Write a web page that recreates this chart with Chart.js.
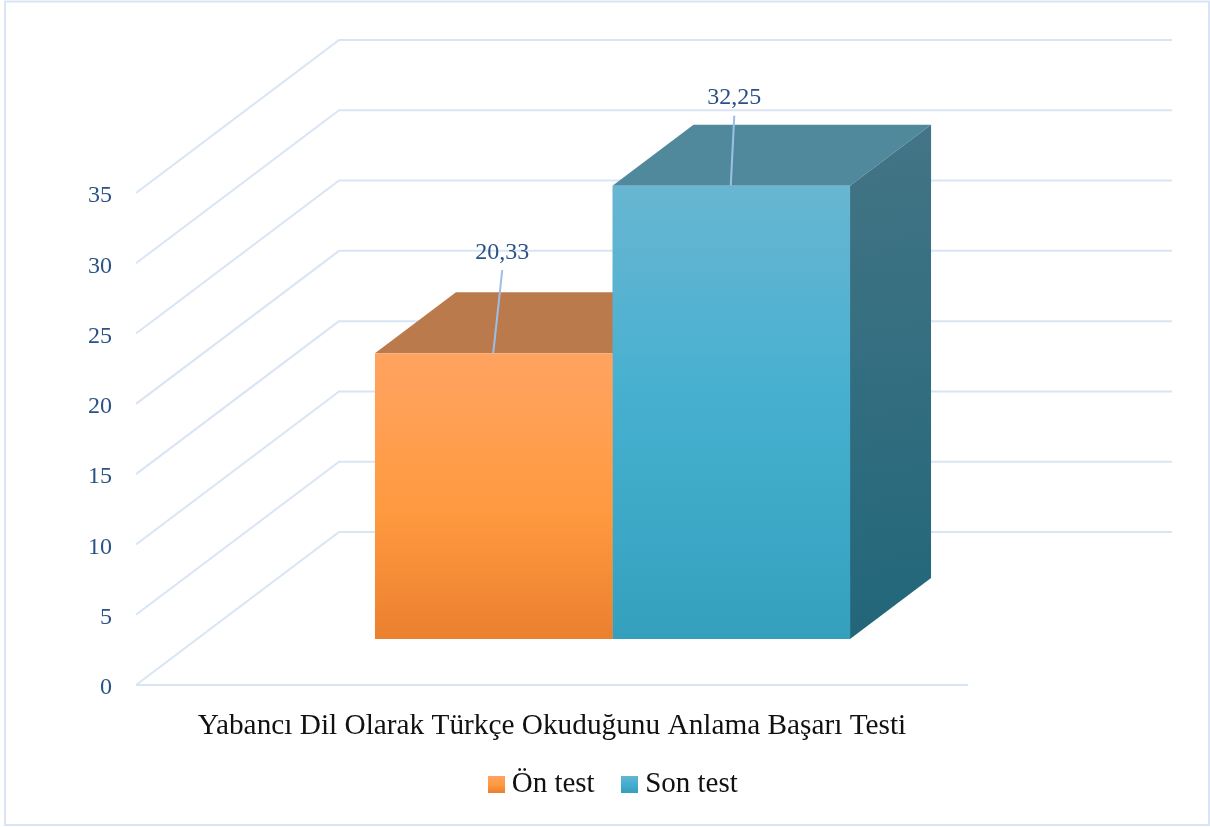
<!DOCTYPE html>
<html lang="tr">
<head>
<meta charset="utf-8">
<title>Yabancı Dil Olarak Türkçe Okuduğunu Anlama Başarı Testi</title>
<script src="https://cdn.jsdelivr.net/npm/chart.js@4"></script>
<style>html,body{margin:0;padding:0;background:#fff}canvas{display:block}</style>
</head>
<body>
<canvas id="c" width="1210" height="827"></canvas>
<script>
const categories = ['Yabancı Dil Olarak Türkçe Okuduğunu Anlama Başarı Testi'];
const seriesNames = ['Ön test', 'Son test'];
const onTest = [20.33];
const sonTest = [32.25];
const axisMin = 0, axisMax = 35, axisStep = 5;

const FONT = '"Liberation Serif", serif';
const TICK = '#2a5286', INK = '#111111', GRID = '#d9e5f4', LEADER = '#9dbfe6';
const WALL = {dx: 203, dy: -153};   // depth of the chart floor
const SHIFT = {dx: 60.5, dy: -46};  // bars stand part-way into the floor
const DEPTH = {dx: 81, dy: -61};    // depth of each bar
const LABEL_OFFSET = [{dx: 9, up: 83, text: 101}, {dx: 3.5, up: 70, text: 88}];

const FRONT = [
  [[0,'#ffa361'],[0.55,'#ff9a40'],[1,'#eb802f']],
  [[0,'#68b6d2'],[0.45,'#47b0d0'],[1,'#34a0be']]
];
const TOP_FACE = ['#bb7a4b', '#50899b'];
const SIDE_FACE = [['#9c6a3a','#8a5a2a'], ['#437585','#22667a']];

function swatch(stops){
  const s = document.createElement('canvas'); s.width = 17; s.height = 17;
  const x = s.getContext('2d'), g = x.createLinearGradient(0,0,0,17);
  stops.forEach(p => g.addColorStop(p[0], p[1]));
  x.fillStyle = g; x.fillRect(0,0,17,17);
  return s;
}
const swatches = FRONT.map(swatch);

function frontFill(i){
  return function(ctx){
    const c = ctx.chart, y = c.scales.y;
    const v = (i === 0 ? onTest : sonTest)[0];
    const y1 = y ? y.getPixelForValue(v) : NaN, y2 = y ? y.getPixelForValue(0) : NaN;
    if (!Number.isFinite(y1) || !Number.isFinite(y2)) return FRONT[i][0][1];
    const g = c.ctx.createLinearGradient(0, y1, 0, y2);
    FRONT[i].forEach(p => g.addColorStop(p[0], p[1]));
    return g;
  };
}
function poly(c, pts, fill){
  c.beginPath();
  pts.forEach((p,i) => i ? c.lineTo(p[0],p[1]) : c.moveTo(p[0],p[1]));
  c.closePath();
  c.fillStyle = fill; c.fill();
}

const frame3d = {
  id: 'frame3d',
  afterLayout(chart){
    // the axis box clips its labels; leave room for the descenders
    chart.scales.x.bottom += 14;
  },
  beforeDraw(chart){
    const c = chart.ctx, w = chart.width, h = chart.height;
    c.save();
    c.fillStyle = '#fff'; c.fillRect(0,0,w,h);
    c.strokeStyle = GRID; c.lineWidth = 2;
    c.strokeRect(5, 1.5, w-6, h-3.5);
    c.restore();
  },
  beforeDatasetsDraw(chart){
    const c = chart.ctx, a = chart.chartArea, y = chart.scales.y;
    c.save();
    c.strokeStyle = GRID; c.lineWidth = 2; c.lineJoin = 'round';
    y.ticks.forEach(t => {
      const py = y.getPixelForValue(t.value);
      c.beginPath();
      c.moveTo(a.left, py);
      c.lineTo(a.left + WALL.dx, py + WALL.dy);
      c.lineTo(a.right + WALL.dx + 1, py + WALL.dy);
      c.stroke();
    });
    const y0 = y.getPixelForValue(0);
    c.beginPath(); c.moveTo(a.left, y0); c.lineTo(a.right, y0); c.stroke();
    // top and side faces of the bars
    chart.data.datasets.forEach((ds, i) => {
      const el = chart.getDatasetMeta(i).data[0];
      const l = el.x - el.width/2 + SHIFT.dx, r = el.x + el.width/2 + SHIFT.dx;
      const t = el.y + SHIFT.dy, b = el.base + SHIFT.dy;
      const d = DEPTH;
      poly(c, [[l,t],[r,t],[r+d.dx,t+d.dy],[l+d.dx,t+d.dy]], TOP_FACE[i]);
      const g = c.createLinearGradient(r, t+d.dy, r+d.dx*0.6, b);
      g.addColorStop(0, SIDE_FACE[i][0]); g.addColorStop(1, SIDE_FACE[i][1]);
      poly(c, [[r,t],[r+d.dx,t+d.dy],[r+d.dx,b+d.dy],[r,b]], g);
    });
    c.restore();
    c.save();
    c.translate(SHIFT.dx, SHIFT.dy);
  },
  afterDatasetsDraw(chart){
    const c = chart.ctx;
    c.restore();
    c.save();
    chart.data.datasets.forEach((ds, i) => {
      const el = chart.getDatasetMeta(i).data[0];
      const o = LABEL_OFFSET[i];
      const x = el.x + SHIFT.dx - 0.5, t = el.y + SHIFT.dy;
      c.strokeStyle = LEADER; c.lineWidth = 2;
      c.beginPath(); c.moveTo(x, t); c.lineTo(x + o.dx, t - o.up); c.stroke();
      c.fillStyle = TICK; c.font = '24px ' + FONT;
      c.textAlign = 'center'; c.textBaseline = 'middle';
      c.fillText(String(ds.data[0]).replace('.', ','), x + o.dx, t - o.text);
    });
    c.restore();
  }
};

new Chart(document.getElementById('c'), {
  type: 'bar',
  plugins: [frame3d],
  data: {
    labels: categories,
    datasets: [
      {label: seriesNames[0], data: onTest, backgroundColor: frontFill(0), borderWidth: 0},
      {label: seriesNames[1], data: sonTest, backgroundColor: frontFill(1), borderWidth: 0}
    ]
  },
  options: {
    responsive: false,
    animation: false,
    events: [],
    clip: false,
    layout: {padding: {top: 193, bottom: 18.5, left: 23, right: 0}},
    datasets: {bar: {categoryPercentage: 0.571, barPercentage: 1, clip: false}},
    scales: {
      x: {
        grid: {display: false, drawTicks: false},
        border: {display: false},
        ticks: {color: INK, font: {family: FONT, size: 29.3}, padding: 23.5, maxRotation: 0, autoSkip: false},
        afterFit(s){ s.height = 50.5; }
      },
      y: {
        min: axisMin, max: axisMax,
        grid: {display: false, drawTicks: false},
        border: {display: false},
        ticks: {stepSize: axisStep, color: TICK, font: {family: FONT, size: 24}, padding: 24, labelOffset: 3},
        afterFit(s){ s.width = 113; }
      },
      pad: {
        position: 'right', min: 0, max: 1,
        grid: {display: false, drawTicks: false},
        border: {display: false},
        ticks: {display: false},
        afterFit(s){ s.width = 242; }
      }
    },
    plugins: {
      title: {display: false},
      tooltip: {enabled: false},
      legend: {
        position: 'bottom',
        labels: {
          usePointStyle: true,
          boxWidth: 2,
          boxHeight: 17,
          padding: 34,
          color: INK,
          font: {family: FONT, size: 29},
          generateLabels(chart){
            return Chart.defaults.plugins.legend.labels.generateLabels(chart)
              .map((it, i) => Object.assign(it, {pointStyle: swatches[i]}));
          }
        }
      }
    }
  }
});
</script>
</body>
</html>
